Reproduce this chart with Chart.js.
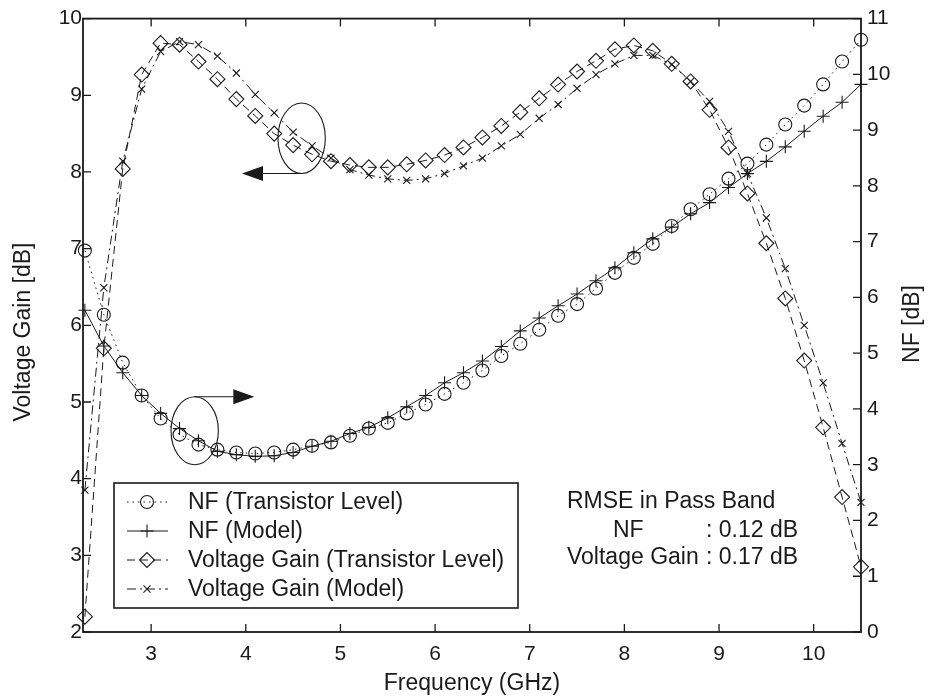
<!DOCTYPE html>
<html>
<head>
<meta charset="utf-8">
<script src="https://cdn.jsdelivr.net/npm/chart.js@4.4.1/dist/chart.umd.min.js"></script>
<style>
  html, body { margin: 0; padding: 0; background: #fff; }
  #wrap { width: 928px; height: 698px; }
</style>
</head>
<body>
<div id="wrap"><canvas id="c" width="928" height="698"></canvas></div>
<script>
// frequency points (GHz)
const freq = [2.3, 2.5, 2.7, 2.9, 3.1, 3.3, 3.5, 3.7, 3.9, 4.1, 4.3, 4.5, 4.7, 4.9,
  5.1, 5.3, 5.5, 5.7, 5.9, 6.1, 6.3, 6.5, 6.7, 6.9, 7.1, 7.3, 7.5, 7.7, 7.9,
  8.1, 8.3, 8.5, 8.7, 8.9, 9.1, 9.3, 9.5, 9.7, 9.9, 10.1, 10.3, 10.5];

// voltage gain [dB], left axis
const gainTransistor = [2.20, 5.70, 8.04, 9.27, 9.68, 9.66, 9.44, 9.21, 8.95, 8.73, 8.50, 8.35, 8.23, 8.14,
  8.09, 8.06, 8.06, 8.10, 8.15, 8.22, 8.32, 8.45, 8.60, 8.78, 8.96, 9.14, 9.31, 9.45, 9.60,
  9.65, 9.58, 9.41, 9.18, 8.81, 8.32, 7.72, 7.07, 6.35, 5.54, 4.67, 3.76, 2.85];
const gainModel = [3.85, 6.49, 8.14, 9.08, 9.57, 9.70, 9.66, 9.51, 9.29, 9.01, 8.77, 8.52, 8.34, 8.18,
  8.03, 7.96, 7.91, 7.89, 7.91, 7.98, 8.08, 8.18, 8.34, 8.49, 8.70, 8.88, 9.09, 9.27, 9.41,
  9.52, 9.52, 9.40, 9.18, 8.92, 8.53, 7.98, 7.40, 6.74, 6.00, 5.25, 4.46, 3.69];

// noise figure [dB], right axis
const nfTransistor = [6.84, 5.69, 4.83, 4.24, 3.83, 3.54, 3.36, 3.27, 3.22, 3.20, 3.22, 3.27, 3.34, 3.40,
  3.52, 3.65, 3.75, 3.92, 4.08, 4.27, 4.47, 4.69, 4.95, 5.17, 5.42, 5.67, 5.88, 6.16, 6.44,
  6.71, 6.96, 7.28, 7.58, 7.85, 8.13, 8.40, 8.74, 9.10, 9.44, 9.82, 10.23, 10.62];
const nfModel = [5.77, 5.13, 4.65, 4.24, 3.92, 3.65, 3.43, 3.24, 3.18, 3.15, 3.16, 3.22, 3.33, 3.42,
  3.56, 3.67, 3.84, 4.04, 4.24, 4.47, 4.65, 4.86, 5.12, 5.40, 5.63, 5.85, 6.06, 6.30, 6.53,
  6.80, 7.05, 7.26, 7.50, 7.70, 7.97, 8.22, 8.44, 8.70, 8.98, 9.25, 9.50, 9.82];

const freqTicks = [3, 4, 5, 6, 7, 8, 9, 10];
const gainTicks = [2, 3, 4, 5, 6, 7, 8, 9, 10];
const nfTicks = [0, 1, 2, 3, 4, 5, 6, 7, 8, 9, 10, 11];

const seriesLabels = ['NF (Transistor Level)', 'NF (Model)', 'Voltage Gain (Transistor Level)', 'Voltage Gain (Model)'];
const rmseLines = [['RMSE in Pass Band', ''], ['NF', ': 0.12 dB'], ['Voltage Gain', ': 0.17 dB']];

const INK = '#1a1a1a';
const FONT = "'Liberation Sans', Arial, Helvetica, sans-serif";
const NONE = 'rgba(0,0,0,0)';

const styles = [
  { axis: 'yNF', data: nfTransistor, pointStyle: 'circle', radius: 6.5, dash: [1.5, 4] },
  { axis: 'yNF', data: nfModel, pointStyle: 'cross', radius: 6.5, dash: [] },
  { axis: 'yGain', data: gainTransistor, pointStyle: 'rectRot', radius: 7.5, dash: [8, 5] },
  { axis: 'yGain', data: gainModel, pointStyle: 'crossRot', radius: 5, dash: [9, 4, 2, 4] },
];

const datasets = styles.map((s, i) => ({
  label: seriesLabels[i],
  data: freq.map((f, k) => ({ x: f, y: s.data[k] })),
  yAxisID: s.axis,
  showLine: true,
  borderColor: INK,
  borderWidth: 1,
  borderDash: s.dash,
  backgroundColor: NONE,
  pointStyle: s.pointStyle,
  pointRadius: s.radius,
  pointBorderColor: INK,
  pointBackgroundColor: NONE,
  pointBorderWidth: 1.1,
  clip: false,
}));

function arrowHead(ctx, x, y, dir) {
  ctx.beginPath();
  ctx.moveTo(x, y);
  ctx.lineTo(x - dir * 21, y - 7.5);
  ctx.lineTo(x - dir * 21, y + 7.5);
  ctx.closePath();
  ctx.fill();
}

const framePlugin = {
  id: 'frame',
  afterDatasetsDraw(chart) {
    const { ctx, chartArea: a, scales } = chart;
    const sx = scales.x, sg = scales.yGain, sn = scales.yNF;
    ctx.save();
    ctx.strokeStyle = INK;
    ctx.fillStyle = INK;
    ctx.setLineDash([]);

    // box
    ctx.lineWidth = 1.8;
    ctx.strokeRect(a.left, a.top, a.right - a.left, a.bottom - a.top);

    // inward ticks
    ctx.lineWidth = 1.3;
    ctx.beginPath();
    freqTicks.forEach(v => {
      const x = sx.getPixelForValue(v);
      ctx.moveTo(x, a.bottom); ctx.lineTo(x, a.bottom - 8);
      ctx.moveTo(x, a.top); ctx.lineTo(x, a.top + 8);
    });
    gainTicks.forEach(v => {
      const y = sg.getPixelForValue(v);
      ctx.moveTo(a.left, y); ctx.lineTo(a.left + 8, y);
    });
    nfTicks.forEach(v => {
      const y = sn.getPixelForValue(v);
      ctx.moveTo(a.right, y); ctx.lineTo(a.right - 8, y);
    });
    ctx.stroke();

    // ellipse + arrow pointing to the gain axis
    ctx.lineWidth = 1.1;
    let cx = sx.getPixelForValue(4.59), cy = sg.getPixelForValue(8.44);
    let rx = sx.getPixelForValue(4.84) - cx, ry = cy - sg.getPixelForValue(8.9);
    ctx.beginPath();
    ctx.ellipse(cx, cy, rx, ry, 0, 0, Math.PI * 2);
    ctx.stroke();
    let ay = cy + ry, tip = sx.getPixelForValue(3.96);
    ctx.beginPath();
    ctx.moveTo(cx, ay); ctx.lineTo(tip + 18, ay);
    ctx.stroke();
    arrowHead(ctx, tip, ay, -1);

    // ellipse + arrow pointing to the NF axis
    cx = sx.getPixelForValue(3.46); cy = sn.getPixelForValue(3.61);
    rx = sx.getPixelForValue(3.71) - cx; ry = cy - sn.getPixelForValue(4.22);
    ctx.beginPath();
    ctx.ellipse(cx, cy, rx, ry, 0, 0, Math.PI * 2);
    ctx.stroke();
    ay = cy - ry; tip = sx.getPixelForValue(4.09);
    ctx.beginPath();
    ctx.moveTo(cx, ay); ctx.lineTo(tip - 18, ay);
    ctx.stroke();
    arrowHead(ctx, tip, ay, 1);

    // legend
    const lx = a.left + 31, ly = 483, lw = 404, lh = 125;
    ctx.lineWidth = 1.6;
    ctx.strokeRect(lx, ly, lw, lh);
    ctx.font = '23px ' + FONT;
    ctx.textBaseline = 'middle';
    ctx.textAlign = 'left';
    const rows = [502, 531, 560, 589];
    styles.forEach((s, i) => {
      const y = rows[i];
      ctx.lineWidth = 1;
      ctx.setLineDash(s.dash);
      ctx.beginPath();
      ctx.moveTo(lx + 13, y); ctx.lineTo(lx + 54, y);
      ctx.stroke();
      ctx.setLineDash([]);
      ctx.fillStyle = NONE;
      ctx.lineWidth = 1.1;
      Chart.helpers.drawPoint(ctx, { pointStyle: s.pointStyle, radius: s.radius, rotation: 0, borderWidth: 1.1 }, lx + 33, y);
      ctx.fillStyle = INK;
      ctx.fillText(seriesLabels[i], lx + 74, y + 1);
    });

    // RMSE note
    const ry0 = [502, 531, 558];
    ctx.fillText(rmseLines[0][0], 567, ry0[0]);
    ctx.fillText(rmseLines[1][0], 613, ry0[1]);
    ctx.fillText(rmseLines[1][1], 706, ry0[1]);
    ctx.fillText(rmseLines[2][0], 567, ry0[2]);
    ctx.fillText(rmseLines[2][1], 706, ry0[2]);

    // left axis title, reading upwards
    ctx.save();
    ctx.translate(24, 332);
    ctx.rotate(-Math.PI / 2);
    ctx.textAlign = 'center';
    ctx.fillText('Voltage Gain [dB]', 0, 0);
    ctx.restore();

    // right axis title, reading upwards
    ctx.save();
    ctx.translate(913, 324);
    ctx.rotate(-Math.PI / 2);
    ctx.textAlign = 'center';
    ctx.fillText('NF [dB]', 0, 0);
    ctx.restore();

    ctx.restore();
  }
};

new Chart(document.getElementById('c'), {
  type: 'scatter',
  data: { datasets },
  options: {
    responsive: false,
    animation: false,
    events: [],
    layout: { padding: { top: 17, right: 0, left: 0, bottom: 0 } },
    plugins: { legend: { display: false }, tooltip: { enabled: false } },
    scales: {
      x: {
        type: 'linear', position: 'bottom', min: 2.28, max: 10.5,
        afterBuildTicks: s => { s.ticks = freqTicks.map(v => ({ value: v })); },
        afterFit: s => { s.height = 66; },
        grid: { display: false, drawTicks: false },
        border: { display: false },
        ticks: { color: INK, padding: 10, font: { family: FONT, size: 21 }, maxRotation: 0 },
        title: { display: true, text: 'Frequency (GHz)', color: INK, padding: { top: 0, bottom: 1 }, font: { family: FONT, size: 23 } },
      },
      yGain: {
        type: 'linear', position: 'left', min: 2, max: 10,
        afterBuildTicks: s => { s.ticks = gainTicks.map(v => ({ value: v })); },
        afterFit: s => { s.width = 83; },
        grid: { display: false, drawTicks: false },
        border: { display: false },
        ticks: { color: INK, padding: 1, font: { family: FONT, size: 21 } },
      },
      yNF: {
        type: 'linear', position: 'right', min: 0, max: 11,
        afterBuildTicks: s => { s.ticks = nfTicks.map(v => ({ value: v })); },
        afterFit: s => { s.width = 67; },
        grid: { display: false, drawTicks: false },
        border: { display: false },
        ticks: { color: INK, padding: 6, font: { family: FONT, size: 21 } },
      },
    },
  },
  plugins: [framePlugin],
});
</script>
</body>
</html>
